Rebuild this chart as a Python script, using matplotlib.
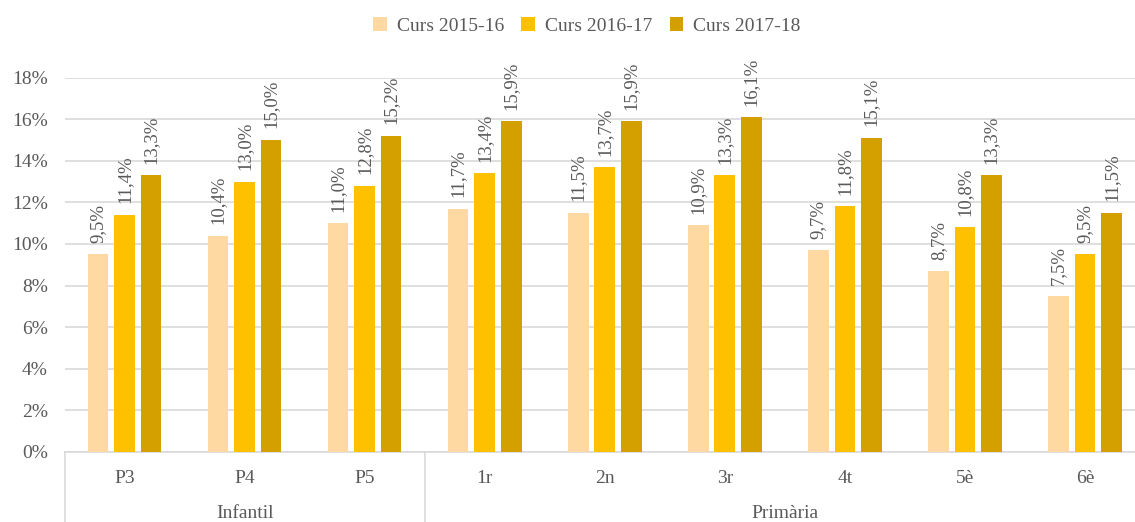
import numpy as np
import matplotlib.pyplot as plt

# Data
categories = ["P3", "P4", "P5", "1r", "2n", "3r", "4t", "5è", "6è"]
groups = ["Infantil", "Primària"]
group_sizes = [3, 6]
series_names = ["Curs 2015-16", "Curs 2016-17", "Curs 2017-18"]
curs_2015 = [9.5, 10.4, 11.0, 11.7, 11.5, 10.9, 9.7, 8.7, 7.5]
curs_2016 = [11.4, 13.0, 12.8, 13.4, 13.7, 13.3, 11.8, 10.8, 9.5]
curs_2017 = [13.3, 15.0, 15.2, 15.9, 15.9, 16.1, 15.1, 13.3, 11.5]

colors = ["#FFD9A1", "#FFC000", "#D4A000"]
text_color = "#595959"
plt.rcParams["font.family"] = ["Liberation Serif", "DejaVu Serif"]

fig = plt.figure(figsize=(11.35, 5.22), dpi=100)
# plot area runs slightly past the right edge, as in the original
ax = fig.add_axes([64.5 / 1135, 1 - 452 / 522, (1145 - 64.5) / 1135, (452 - 77.5) / 522])

x = np.arange(len(categories))
width = 0.172
offset = 0.221
for i, (vals, name) in enumerate(zip([curs_2015, curs_2016, curs_2017], series_names)):
    pos = x + (i - 1) * offset
    ax.bar(pos, vals, width, color=colors[i], label=name, zorder=3)
    for p, v in zip(pos, vals):
        ax.text(p, v + 0.55, f"{v:.1f}%".replace(".", ","), rotation=90,
                ha="center", va="bottom", fontsize=13.5, color=text_color)

ax.set_xlim(-0.5, len(categories) - 0.5)
ax.set_ylim(0, 18)
ax.set_yticks(range(0, 19, 2))
ax.set_yticklabels([f"{t}%" for t in range(0, 19, 2)], fontsize=14, color=text_color)
ax.yaxis.grid(True, color="#D9D9D9", linewidth=1.2, zorder=0)
ax.tick_params(axis="y", length=0, pad=12)
ax.set_xticks([])
for s in ["top", "right", "left"]:
    ax.spines[s].set_visible(False)
ax.spines["bottom"].set_color("#D9D9D9")
ax.spines["bottom"].set_linewidth(1.2)

# Two-level category axis
for xi, c in zip(x, categories):
    ax.text(xi, -0.07, c, transform=ax.get_xaxis_transform(), ha="center", va="center",
            fontsize=14, color=text_color)
start = 0
bounds = [-0.5]
for g, n in zip(groups, group_sizes):
    mid = start + (n - 1) / 2
    ax.text(mid, -0.163, g, transform=ax.get_xaxis_transform(), ha="center", va="center",
            fontsize=14, color=text_color)
    start += n
    bounds.append(start - 0.5)
for b in bounds[:-1]:
    ax.plot([b, b], [0, -0.2], transform=ax.get_xaxis_transform(), color="#D9D9D9",
            linewidth=1.2, clip_on=False)

leg = fig.legend(loc="upper center", bbox_to_anchor=(0.517, 1.0), ncol=3, frameon=False,
                 fontsize=14, handlelength=0.7, handleheight=0.7, columnspacing=0.9,
                 handletextpad=0.5)
for t in leg.get_texts():
    t.set_color(text_color)

plt.savefig("out.png", dpi=100)
